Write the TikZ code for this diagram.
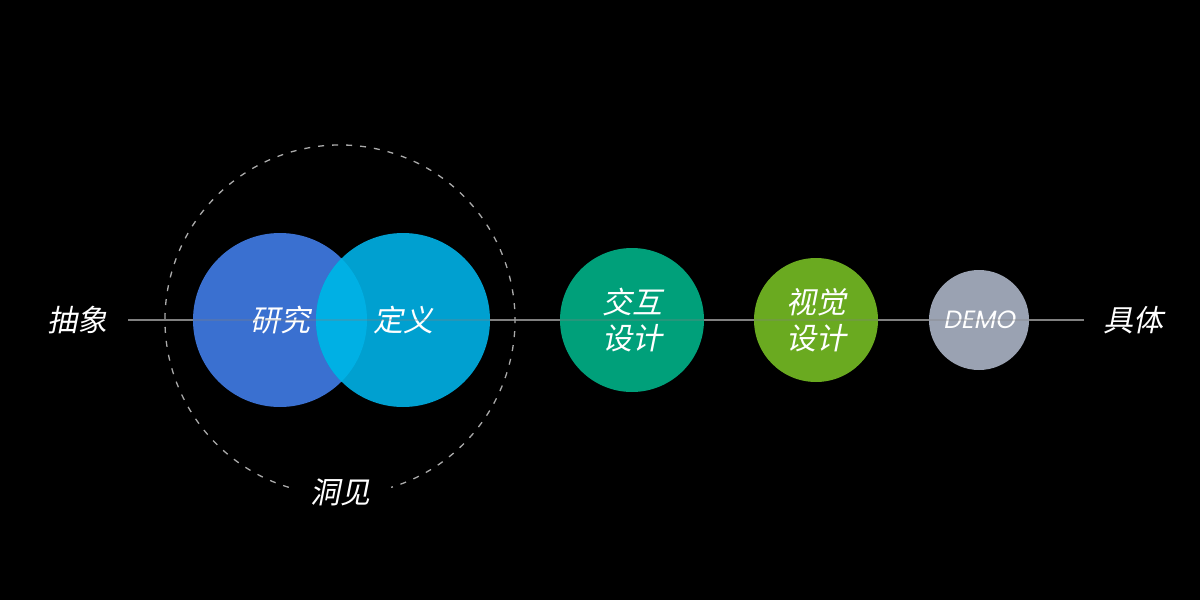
\documentclass[tikz,border=0pt]{standalone}
\usepackage{fontspec}
\usepackage{xcolor}
\usetikzlibrary{positioning}
\newfontfamily\cjk[FakeSlant=0.2]{Noto Sans CJK SC}
\newfontfamily\demofont[FakeSlant=0.2]{Poppins}

\definecolor{bgblack}{RGB}{0,0,0}
\definecolor{axisgray}{RGB}{128,128,128}
\definecolor{dashgray}{RGB}{170,170,170}
\definecolor{researchblue}{RGB}{58,112,208}
\definecolor{defcyan}{RGB}{0,160,208}
\definecolor{overlapcyan}{RGB}{0,176,228}
\definecolor{interactgreen}{RGB}{0,160,122}
\definecolor{visuallime}{RGB}{106,170,32}
\definecolor{demogray}{RGB}{154,162,178}

\tikzset{
  bubble/.style={circle, inner sep=0pt, text=white, align=center,
    font=\cjk\fontsize{30}{36}\selectfont},
  endword/.style={text=white, inner sep=0pt, font=\cjk\fontsize{30}{36}\selectfont},
  axisline/.style={axisgray, line width=1.2pt},
  insight/.style={dashgray, line width=1.3pt, dash pattern=on 6pt off 8pt}
}

\begin{document}
\begin{tikzpicture}[x=1pt, y=-1pt]
        % Fundo preto
        \fill[bgblack] (0,0) rectangle (1200,600);
        \useasboundingbox (0,0) rectangle (1200,600);

        % Eixo horizontal
        \coordinate (axisstart) at (128,320);
        \coordinate (axisend) at (1084,320);
        \draw[axisline] (axisstart) -- (axisend);

        % Circulo tracejado, aberto em baixo
        \coordinate (insightcenter) at (340,320);
        \draw[insight] (insightcenter) ++(107:175) arc[start angle=107, end angle=433, radius=175];

        % Circulos
        \node[bubble, fill=researchblue, minimum size=174pt] (research) at (280,320) {研究};
        \node[bubble, fill=defcyan, minimum size=174pt] (define) at (403,320) {定义};
        \begin{scope}
          \clip (research.center) circle (87);
          \fill[overlapcyan] (define.center) circle (87);
        \end{scope}
        \node[bubble, fill=interactgreen, minimum size=144pt] (interact) at (632,320) {交互\\设计};
        \node[bubble, fill=visuallime, minimum size=124pt] (visual) at (816,320) {视觉\\设计};
        \node[bubble, fill=demogray, minimum size=100pt,
          font=\demofont\fontsize{25}{28}\selectfont] (demo) at (979,320) {DEMO};

        % Linha por cima, transparente
        \draw[axisline, opacity=0.3] (axisstart) -- (axisend);

        % Textos
        \node[endword, left=20pt of axisstart] (abstract) {抽象};
        \node[endword, right=19pt of axisend] (concrete) {具体};
        \node[endword] (insighttext) at (340,492) {洞见};
    \end{tikzpicture}
\end{document}
